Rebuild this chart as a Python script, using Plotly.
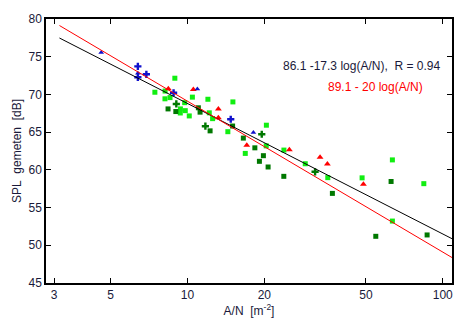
import numpy as np
import plotly.graph_objects as go

# ---- data (A/N in m^-2, SPL in dB) ----
blue_tri_x = [4.59, 6.39, 10.93, 18.12]
blue_tri_y = [75.55, 72.82, 70.73, 64.96]

blue_cross_x = [6.39, 6.39, 6.90, 8.82, 14.77]
blue_cross_y = [73.72, 72.27, 72.67, 70.22, 66.71]

red_x = [8.41, 10.54, 13.21, 13.21, 17.07, 25.06, 33.06, 35.32, 48.88]
red_y = [70.74, 70.64, 68.08, 66.90, 63.27, 62.67, 61.67, 60.77, 58.08]

light_x = [7.45, 8.17, 8.16, 8.54, 8.92, 9.75, 9.38, 9.80, 9.37, 10.16,
           10.45, 12.02, 15.06, 12.17, 12.54, 14.39, 16.84, 20.37, 20.34,
           23.86, 28.93, 35.45, 48.31, 63.49, 63.49, 84.30]
light_y = [70.29, 70.45, 69.42, 69.58, 72.15, 68.91, 68.08, 67.85, 67.54, 67.15,
           69.64, 69.36, 69.01, 67.56, 66.79, 65.06, 62.18, 65.92, 63.18,
           62.62, 60.81, 58.97, 58.94, 61.32, 53.21, 58.17]

dark_x = [8.39, 9.00, 11.03, 11.20, 12.26, 15.02, 16.55, 18.36, 19.83, 19.13,
          20.69, 23.84, 36.95, 62.75, 54.66, 86.84]
dark_y = [68.08, 67.73, 68.23, 67.65, 65.17, 65.81, 64.21, 62.92, 61.88, 61.13,
          60.38, 59.14, 56.88, 58.46, 51.19, 51.37]

dark_cross_x = [9.04, 11.75, 19.54, 31.61]
dark_cross_y = [68.74, 65.79, 64.72, 59.74]

# fit lines: SPL = a + b*log10(A/N)
fit_x = [3.15, 115.0]
fit_black = (86.1, -17.3)
fit_red = (89.1, -20.0)

x_ticks = [3, 5, 10, 20, 50, 100]

FONT = "Liberation Sans, Arial, sans-serif"
TXT = "#1a1a3a"

fig = go.Figure()

fig.add_trace(go.Scatter(x=light_x, y=light_y, mode="markers",
                         marker=dict(symbol="square", size=5, color="#11ee11", line=dict(width=0))))
fig.add_trace(go.Scatter(x=dark_x, y=dark_y, mode="markers",
                         marker=dict(symbol="square", size=5, color="#007800", line=dict(width=0))))
fig.add_trace(go.Scatter(x=dark_cross_x, y=dark_cross_y, mode="markers",
                         marker=dict(symbol="cross", size=6, color="#007800", line=dict(width=0))))
fig.add_trace(go.Scatter(x=red_x, y=red_y, mode="markers",
                         marker=dict(symbol="triangle-up", size=6, color="#ff0000", line=dict(width=0))))
fig.add_trace(go.Scatter(x=blue_cross_x, y=blue_cross_y, mode="markers",
                         marker=dict(symbol="cross", size=6, color="#1010cc", line=dict(width=0))))
fig.add_trace(go.Scatter(x=blue_tri_x, y=blue_tri_y, mode="markers",
                         marker=dict(symbol="triangle-up", size=5, color="#1010cc", line=dict(width=0))))

lx = np.log10(np.array(fit_x))
fig.add_trace(go.Scatter(x=fit_x, y=list(fit_black[0] + fit_black[1] * lx), mode="lines",
                         line=dict(color="black", width=1)))
fig.add_trace(go.Scatter(x=fit_x, y=list(fit_red[0] + fit_red[1] * lx), mode="lines",
                         line=dict(color="#ff0000", width=1)))

axis_common = dict(showline=True, linecolor="black", linewidth=1.5, mirror="ticks",
                   ticks="inside", ticklen=5, tickcolor="black", tickwidth=1,
                   showgrid=False, zeroline=False,
                   tickfont=dict(family=FONT, size=12, color=TXT))

fig.update_layout(
    width=472, height=325,
    margin=dict(l=46, r=20, t=12, b=40),
    paper_bgcolor="white", plot_bgcolor="white",
    showlegend=False,
    xaxis=dict(type="log", range=[np.log10(2.79), np.log10(108.7)],
               tickvals=x_ticks, ticktext=[str(v) for v in x_ticks],
               title=dict(text="A/N\u00a0\u00a0[m<sup>-2</sup>]", standoff=2,
                          font=dict(family=FONT, size=12, color=TXT)),
               **axis_common),
    yaxis=dict(range=[45, 80], dtick=5, tick0=45,
               title=dict(text="SPL\u00a0\u00a0gemeten\u00a0\u00a0[dB]", standoff=4,
                          font=dict(family=FONT, size=12, color=TXT)),
               **axis_common),
    annotations=[
        dict(text="86.1 -17.3 log(A/N),\u00a0\u00a0R = 0.94", xref="paper", yref="paper",
             x=0.975, y=0.8205, xanchor="right", yanchor="middle", showarrow=False,
             font=dict(family=FONT, size=12, color=TXT)),
        dict(text="89.1 - 20 log(A/N)", xref="paper", yref="paper",
             x=0.6897, y=0.7425, xanchor="left", yanchor="middle", showarrow=False,
             font=dict(family=FONT, size=12, color="#ff0000")),
    ],
)

fig.write_html("out.html")
